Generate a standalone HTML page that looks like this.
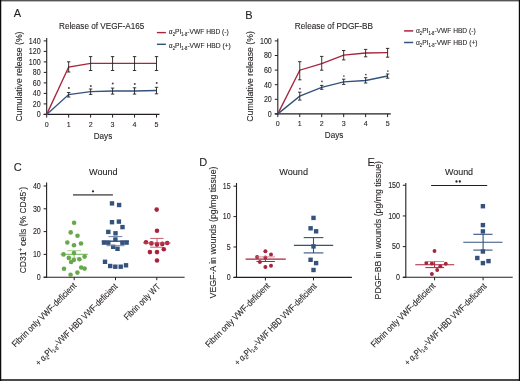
<!DOCTYPE html>
<html><head><meta charset="utf-8"><style>
html,body{margin:0;padding:0;background:#fff;}
svg{display:block;font-family:"Liberation Sans", sans-serif;will-change:transform;}
text{stroke:#231f20;stroke-width:0.1px;}
</style></head><body>
<svg width="520" height="381" viewBox="0 0 520 381">
<rect width="520" height="381" fill="#fff"/>
<rect x="0" y="0" width="520" height="1.4" fill="#555"/>
<rect x="0" y="379.0" width="520" height="2" fill="#4a4a4a"/>
<rect x="0" y="0" width="1.25" height="381" fill="#0a0a0a"/>
<rect x="518.8" y="0" width="1.2" height="381" fill="#0a0a0a"/>
<text x="13.8" y="16.9" font-size="11" text-anchor="start" fill="#231f20" >A</text>
<text x="245.3" y="19.3" font-size="11" text-anchor="start" fill="#231f20" >B</text>
<text x="13.8" y="170.8" font-size="11" text-anchor="start" fill="#231f20" >C</text>
<text x="199.3" y="165.6" font-size="11" text-anchor="start" fill="#231f20" >D</text>
<text x="367.4" y="165.7" font-size="11" text-anchor="start" fill="#231f20" >E</text>
<line x1="46.7" y1="37.9" x2="46.7" y2="114.9" stroke="#231f20" stroke-width="1.1" />
<line x1="43.7" y1="114.4" x2="46.7" y2="114.4" stroke="#231f20" stroke-width="1" />
<text x="40.7" y="117.25" font-size="8.3" text-anchor="end" fill="#231f20" textLength="3.95" lengthAdjust="spacingAndGlyphs" >0</text>
<line x1="43.7" y1="103.9" x2="46.7" y2="103.9" stroke="#231f20" stroke-width="1" />
<text x="40.7" y="106.75" font-size="8.3" text-anchor="end" fill="#231f20" textLength="7.9" lengthAdjust="spacingAndGlyphs" >20</text>
<line x1="43.7" y1="93.4" x2="46.7" y2="93.4" stroke="#231f20" stroke-width="1" />
<text x="40.7" y="96.25" font-size="8.3" text-anchor="end" fill="#231f20" textLength="7.9" lengthAdjust="spacingAndGlyphs" >40</text>
<line x1="43.7" y1="82.9" x2="46.7" y2="82.9" stroke="#231f20" stroke-width="1" />
<text x="40.7" y="85.75" font-size="8.3" text-anchor="end" fill="#231f20" textLength="7.9" lengthAdjust="spacingAndGlyphs" >60</text>
<line x1="43.7" y1="72.4" x2="46.7" y2="72.4" stroke="#231f20" stroke-width="1" />
<text x="40.7" y="75.25" font-size="8.3" text-anchor="end" fill="#231f20" textLength="7.9" lengthAdjust="spacingAndGlyphs" >80</text>
<line x1="43.7" y1="61.900000000000006" x2="46.7" y2="61.900000000000006" stroke="#231f20" stroke-width="1" />
<text x="40.7" y="64.75" font-size="8.3" text-anchor="end" fill="#231f20" textLength="11.85" lengthAdjust="spacingAndGlyphs" >100</text>
<line x1="43.7" y1="51.400000000000006" x2="46.7" y2="51.400000000000006" stroke="#231f20" stroke-width="1" />
<text x="40.7" y="54.25000000000001" font-size="8.3" text-anchor="end" fill="#231f20" textLength="11.85" lengthAdjust="spacingAndGlyphs" >120</text>
<line x1="43.7" y1="40.900000000000006" x2="46.7" y2="40.900000000000006" stroke="#231f20" stroke-width="1" />
<text x="40.7" y="43.75000000000001" font-size="8.3" text-anchor="end" fill="#231f20" textLength="11.85" lengthAdjust="spacingAndGlyphs" >140</text>
<line x1="43.7" y1="114.4" x2="159.5" y2="114.4" stroke="#231f20" stroke-width="1.1" />
<line x1="46.7" y1="114.4" x2="46.7" y2="117.60000000000001" stroke="#231f20" stroke-width="1" />
<text x="46.7" y="126.5" font-size="8.1" text-anchor="middle" fill="#231f20" textLength="3.95" lengthAdjust="spacingAndGlyphs" >0</text>
<line x1="68.66" y1="114.4" x2="68.66" y2="117.60000000000001" stroke="#231f20" stroke-width="1" />
<text x="68.66" y="126.5" font-size="8.1" text-anchor="middle" fill="#231f20" textLength="3.95" lengthAdjust="spacingAndGlyphs" >1</text>
<line x1="90.62" y1="114.4" x2="90.62" y2="117.60000000000001" stroke="#231f20" stroke-width="1" />
<text x="90.62" y="126.5" font-size="8.1" text-anchor="middle" fill="#231f20" textLength="3.95" lengthAdjust="spacingAndGlyphs" >2</text>
<line x1="112.58" y1="114.4" x2="112.58" y2="117.60000000000001" stroke="#231f20" stroke-width="1" />
<text x="112.58" y="126.5" font-size="8.1" text-anchor="middle" fill="#231f20" textLength="3.95" lengthAdjust="spacingAndGlyphs" >3</text>
<line x1="134.54000000000002" y1="114.4" x2="134.54000000000002" y2="117.60000000000001" stroke="#231f20" stroke-width="1" />
<text x="134.54000000000002" y="126.5" font-size="8.1" text-anchor="middle" fill="#231f20" textLength="3.95" lengthAdjust="spacingAndGlyphs" >4</text>
<line x1="156.5" y1="114.4" x2="156.5" y2="117.60000000000001" stroke="#231f20" stroke-width="1" />
<text x="156.5" y="126.5" font-size="8.1" text-anchor="middle" fill="#231f20" textLength="3.95" lengthAdjust="spacingAndGlyphs" >5</text>
<text x="103.0" y="138.5" font-size="9.6" text-anchor="middle" fill="#231f20" textLength="18.6" lengthAdjust="spacingAndGlyphs" >Days</text>
<path d="M46.7,114.4 L68.66,67.0 L90.62,63.4 L112.58,63.4 L134.54000000000002,63.4 L156.5,63.4" fill="none" stroke="#a8243c" stroke-width="1.35"/>
<path d="M46.7,114.4 L68.66,94.6 L90.62,91.7 L112.58,91.0 L134.54000000000002,91.0 L156.5,90.5" fill="none" stroke="#34527e" stroke-width="1.35"/>
<line x1="68.66" y1="61.8" x2="68.66" y2="72.0" stroke="#231f20" stroke-width="0.9" />
<line x1="66.96" y1="61.8" x2="70.36" y2="61.8" stroke="#231f20" stroke-width="0.9" />
<line x1="66.96" y1="72.0" x2="70.36" y2="72.0" stroke="#231f20" stroke-width="0.9" />
<line x1="90.62" y1="56.6" x2="90.62" y2="70.5" stroke="#231f20" stroke-width="0.9" />
<line x1="88.92" y1="56.6" x2="92.32000000000001" y2="56.6" stroke="#231f20" stroke-width="0.9" />
<line x1="88.92" y1="70.5" x2="92.32000000000001" y2="70.5" stroke="#231f20" stroke-width="0.9" />
<line x1="112.58" y1="56.6" x2="112.58" y2="70.5" stroke="#231f20" stroke-width="0.9" />
<line x1="110.88" y1="56.6" x2="114.28" y2="56.6" stroke="#231f20" stroke-width="0.9" />
<line x1="110.88" y1="70.5" x2="114.28" y2="70.5" stroke="#231f20" stroke-width="0.9" />
<line x1="134.54000000000002" y1="56.6" x2="134.54000000000002" y2="70.5" stroke="#231f20" stroke-width="0.9" />
<line x1="132.84000000000003" y1="56.6" x2="136.24" y2="56.6" stroke="#231f20" stroke-width="0.9" />
<line x1="132.84000000000003" y1="70.5" x2="136.24" y2="70.5" stroke="#231f20" stroke-width="0.9" />
<line x1="156.5" y1="56.6" x2="156.5" y2="70.5" stroke="#231f20" stroke-width="0.9" />
<line x1="154.8" y1="56.6" x2="158.2" y2="56.6" stroke="#231f20" stroke-width="0.9" />
<line x1="154.8" y1="70.5" x2="158.2" y2="70.5" stroke="#231f20" stroke-width="0.9" />
<line x1="68.66" y1="92.5" x2="68.66" y2="97.0" stroke="#231f20" stroke-width="0.9" />
<line x1="66.96" y1="92.5" x2="70.36" y2="92.5" stroke="#231f20" stroke-width="0.9" />
<line x1="66.96" y1="97.0" x2="70.36" y2="97.0" stroke="#231f20" stroke-width="0.9" />
<line x1="90.62" y1="89.0" x2="90.62" y2="94.4" stroke="#231f20" stroke-width="0.9" />
<line x1="88.92" y1="89.0" x2="92.32000000000001" y2="89.0" stroke="#231f20" stroke-width="0.9" />
<line x1="88.92" y1="94.4" x2="92.32000000000001" y2="94.4" stroke="#231f20" stroke-width="0.9" />
<line x1="112.58" y1="88.1" x2="112.58" y2="94.1" stroke="#231f20" stroke-width="0.9" />
<line x1="110.88" y1="88.1" x2="114.28" y2="88.1" stroke="#231f20" stroke-width="0.9" />
<line x1="110.88" y1="94.1" x2="114.28" y2="94.1" stroke="#231f20" stroke-width="0.9" />
<line x1="134.54000000000002" y1="87.8" x2="134.54000000000002" y2="94.1" stroke="#231f20" stroke-width="0.9" />
<line x1="132.84000000000003" y1="87.8" x2="136.24" y2="87.8" stroke="#231f20" stroke-width="0.9" />
<line x1="132.84000000000003" y1="94.1" x2="136.24" y2="94.1" stroke="#231f20" stroke-width="0.9" />
<line x1="156.5" y1="87.3" x2="156.5" y2="93.8" stroke="#231f20" stroke-width="0.9" />
<line x1="154.8" y1="87.3" x2="158.2" y2="87.3" stroke="#231f20" stroke-width="0.9" />
<line x1="154.8" y1="93.8" x2="158.2" y2="93.8" stroke="#231f20" stroke-width="0.9" />
<circle cx="68.86" cy="88.1" r="1.0" fill="#4a4a4a"/>
<circle cx="90.82000000000001" cy="85.9" r="1.0" fill="#4a4a4a"/>
<circle cx="112.78" cy="83.5" r="1.0" fill="#4a4a4a"/>
<circle cx="134.74" cy="83.9" r="1.0" fill="#4a4a4a"/>
<circle cx="156.7" cy="83.1" r="1.0" fill="#4a4a4a"/>
<text x="59.0" y="28.9" font-size="9.4" text-anchor="start" fill="#231f20" textLength="85.4" lengthAdjust="spacingAndGlyphs" >Release of VEGF-A165</text>
<text x="22.3" y="121.6" font-size="9.9" text-anchor="start" fill="#231f20" textLength="90.1" lengthAdjust="spacingAndGlyphs" transform="rotate(-90 22.3 121.6)" >Cumulative release (%)</text>
<line x1="277.8" y1="38.4" x2="277.8" y2="114.4" stroke="#231f20" stroke-width="1.1" />
<line x1="274.8" y1="113.9" x2="277.8" y2="113.9" stroke="#231f20" stroke-width="1" />
<text x="271.8" y="116.75" font-size="8.3" text-anchor="end" fill="#231f20" textLength="3.95" lengthAdjust="spacingAndGlyphs" >0</text>
<line x1="274.8" y1="99.30000000000001" x2="277.8" y2="99.30000000000001" stroke="#231f20" stroke-width="1" />
<text x="271.8" y="102.15" font-size="8.3" text-anchor="end" fill="#231f20" textLength="7.9" lengthAdjust="spacingAndGlyphs" >20</text>
<line x1="274.8" y1="84.7" x2="277.8" y2="84.7" stroke="#231f20" stroke-width="1" />
<text x="271.8" y="87.55" font-size="8.3" text-anchor="end" fill="#231f20" textLength="7.9" lengthAdjust="spacingAndGlyphs" >40</text>
<line x1="274.8" y1="70.10000000000001" x2="277.8" y2="70.10000000000001" stroke="#231f20" stroke-width="1" />
<text x="271.8" y="72.95" font-size="8.3" text-anchor="end" fill="#231f20" textLength="7.9" lengthAdjust="spacingAndGlyphs" >60</text>
<line x1="274.8" y1="55.50000000000001" x2="277.8" y2="55.50000000000001" stroke="#231f20" stroke-width="1" />
<text x="271.8" y="58.35000000000001" font-size="8.3" text-anchor="end" fill="#231f20" textLength="7.9" lengthAdjust="spacingAndGlyphs" >80</text>
<line x1="274.8" y1="40.900000000000006" x2="277.8" y2="40.900000000000006" stroke="#231f20" stroke-width="1" />
<text x="271.8" y="43.75000000000001" font-size="8.3" text-anchor="end" fill="#231f20" textLength="11.85" lengthAdjust="spacingAndGlyphs" >100</text>
<line x1="274.8" y1="113.9" x2="390.8" y2="113.9" stroke="#231f20" stroke-width="1.1" />
<line x1="277.8" y1="113.9" x2="277.8" y2="117.10000000000001" stroke="#231f20" stroke-width="1" />
<text x="277.8" y="126.0" font-size="8.1" text-anchor="middle" fill="#231f20" textLength="3.95" lengthAdjust="spacingAndGlyphs" >0</text>
<line x1="299.76" y1="113.9" x2="299.76" y2="117.10000000000001" stroke="#231f20" stroke-width="1" />
<text x="299.76" y="126.0" font-size="8.1" text-anchor="middle" fill="#231f20" textLength="3.95" lengthAdjust="spacingAndGlyphs" >1</text>
<line x1="321.72" y1="113.9" x2="321.72" y2="117.10000000000001" stroke="#231f20" stroke-width="1" />
<text x="321.72" y="126.0" font-size="8.1" text-anchor="middle" fill="#231f20" textLength="3.95" lengthAdjust="spacingAndGlyphs" >2</text>
<line x1="343.68" y1="113.9" x2="343.68" y2="117.10000000000001" stroke="#231f20" stroke-width="1" />
<text x="343.68" y="126.0" font-size="8.1" text-anchor="middle" fill="#231f20" textLength="3.95" lengthAdjust="spacingAndGlyphs" >3</text>
<line x1="365.64" y1="113.9" x2="365.64" y2="117.10000000000001" stroke="#231f20" stroke-width="1" />
<text x="365.64" y="126.0" font-size="8.1" text-anchor="middle" fill="#231f20" textLength="3.95" lengthAdjust="spacingAndGlyphs" >4</text>
<line x1="387.6" y1="113.9" x2="387.6" y2="117.10000000000001" stroke="#231f20" stroke-width="1" />
<text x="387.6" y="126.0" font-size="8.1" text-anchor="middle" fill="#231f20" textLength="3.95" lengthAdjust="spacingAndGlyphs" >5</text>
<text x="334.1" y="138.0" font-size="9.6" text-anchor="middle" fill="#231f20" textLength="18.6" lengthAdjust="spacingAndGlyphs" >Days</text>
<path d="M277.8,113.9 L299.76,70.2 L321.72,63.7 L343.68,55.1 L365.64,53.0 L387.6,52.6" fill="none" stroke="#a8243c" stroke-width="1.35"/>
<path d="M277.8,113.9 L299.76,96.2 L321.72,87.3 L343.68,81.9 L365.64,80.5 L387.6,76.0" fill="none" stroke="#34527e" stroke-width="1.35"/>
<line x1="299.76" y1="61.7" x2="299.76" y2="79.8" stroke="#231f20" stroke-width="0.9" />
<line x1="298.06" y1="61.7" x2="301.46" y2="61.7" stroke="#231f20" stroke-width="0.9" />
<line x1="298.06" y1="79.8" x2="301.46" y2="79.8" stroke="#231f20" stroke-width="0.9" />
<line x1="321.72" y1="56.4" x2="321.72" y2="70.2" stroke="#231f20" stroke-width="0.9" />
<line x1="320.02000000000004" y1="56.4" x2="323.42" y2="56.4" stroke="#231f20" stroke-width="0.9" />
<line x1="320.02000000000004" y1="70.2" x2="323.42" y2="70.2" stroke="#231f20" stroke-width="0.9" />
<line x1="343.68" y1="50.5" x2="343.68" y2="59.9" stroke="#231f20" stroke-width="0.9" />
<line x1="341.98" y1="50.5" x2="345.38" y2="50.5" stroke="#231f20" stroke-width="0.9" />
<line x1="341.98" y1="59.9" x2="345.38" y2="59.9" stroke="#231f20" stroke-width="0.9" />
<line x1="365.64" y1="49.4" x2="365.64" y2="56.8" stroke="#231f20" stroke-width="0.9" />
<line x1="363.94" y1="49.4" x2="367.34" y2="49.4" stroke="#231f20" stroke-width="0.9" />
<line x1="363.94" y1="56.8" x2="367.34" y2="56.8" stroke="#231f20" stroke-width="0.9" />
<line x1="387.6" y1="48.4" x2="387.6" y2="57.2" stroke="#231f20" stroke-width="0.9" />
<line x1="385.90000000000003" y1="48.4" x2="389.3" y2="48.4" stroke="#231f20" stroke-width="0.9" />
<line x1="385.90000000000003" y1="57.2" x2="389.3" y2="57.2" stroke="#231f20" stroke-width="0.9" />
<line x1="299.76" y1="92.2" x2="299.76" y2="100.1" stroke="#231f20" stroke-width="0.9" />
<line x1="298.06" y1="92.2" x2="301.46" y2="92.2" stroke="#231f20" stroke-width="0.9" />
<line x1="298.06" y1="100.1" x2="301.46" y2="100.1" stroke="#231f20" stroke-width="0.9" />
<line x1="321.72" y1="85.4" x2="321.72" y2="89.3" stroke="#231f20" stroke-width="0.9" />
<line x1="320.02000000000004" y1="85.4" x2="323.42" y2="85.4" stroke="#231f20" stroke-width="0.9" />
<line x1="320.02000000000004" y1="89.3" x2="323.42" y2="89.3" stroke="#231f20" stroke-width="0.9" />
<line x1="343.68" y1="79.2" x2="343.68" y2="84.4" stroke="#231f20" stroke-width="0.9" />
<line x1="341.98" y1="79.2" x2="345.38" y2="79.2" stroke="#231f20" stroke-width="0.9" />
<line x1="341.98" y1="84.4" x2="345.38" y2="84.4" stroke="#231f20" stroke-width="0.9" />
<line x1="365.64" y1="77.7" x2="365.64" y2="83.0" stroke="#231f20" stroke-width="0.9" />
<line x1="363.94" y1="77.7" x2="367.34" y2="77.7" stroke="#231f20" stroke-width="0.9" />
<line x1="363.94" y1="83.0" x2="367.34" y2="83.0" stroke="#231f20" stroke-width="0.9" />
<line x1="387.6" y1="74.0" x2="387.6" y2="78.2" stroke="#231f20" stroke-width="0.9" />
<line x1="385.90000000000003" y1="74.0" x2="389.3" y2="74.0" stroke="#231f20" stroke-width="0.9" />
<line x1="385.90000000000003" y1="78.2" x2="389.3" y2="78.2" stroke="#231f20" stroke-width="0.9" />
<circle cx="299.96" cy="88.7" r="0.85" fill="#4a4a4a"/>
<circle cx="321.92" cy="81.4" r="0.85" fill="#4a4a4a"/>
<circle cx="343.88" cy="76.0" r="0.85" fill="#4a4a4a"/>
<circle cx="365.84" cy="74.6" r="0.85" fill="#4a4a4a"/>
<circle cx="387.8" cy="71.0" r="0.85" fill="#4a4a4a"/>
<text x="294.8" y="29.4" font-size="9.4" text-anchor="start" fill="#231f20" textLength="78.3" lengthAdjust="spacingAndGlyphs" >Release of PDGF-BB</text>
<text x="253.5" y="121.7" font-size="9.9" text-anchor="start" fill="#231f20" textLength="90.5" lengthAdjust="spacingAndGlyphs" transform="rotate(-90 253.5 121.7)" >Cumulative release (%)</text>
<line x1="156.9" y1="32.6" x2="165.9" y2="32.6" stroke="#a8243c" stroke-width="1.4" />
<line x1="156.9" y1="44.3" x2="165.9" y2="44.3" stroke="#34527e" stroke-width="1.4" />
<text x="168.8" y="34.2" font-size="7.7" fill="#231f20" textLength="60" lengthAdjust="spacingAndGlyphs">α<tspan font-size="4.8" dy="2.0">2</tspan><tspan dy="-2.0">PI</tspan><tspan font-size="4.8" dy="2.2">1-8</tspan><tspan dy="-2.2">-VWF HBD (-)</tspan></text>
<text x="168.8" y="48.1" font-size="7.7" fill="#231f20" textLength="62" lengthAdjust="spacingAndGlyphs">α<tspan font-size="4.8" dy="2.0">2</tspan><tspan dy="-2.0">PI</tspan><tspan font-size="4.8" dy="2.2">1-8</tspan><tspan dy="-2.2">-VWF HBD (+)</tspan></text>
<line x1="404.1" y1="30.9" x2="413.2" y2="30.9" stroke="#a8243c" stroke-width="1.5" />
<line x1="404.1" y1="42.5" x2="413.2" y2="42.5" stroke="#34527e" stroke-width="1.5" />
<text x="416.0" y="33.1" font-size="7.7" fill="#231f20" textLength="59.6" lengthAdjust="spacingAndGlyphs">α<tspan font-size="4.8" dy="2.0">2</tspan><tspan dy="-2.0">PI</tspan><tspan font-size="4.8" dy="2.2">1-8</tspan><tspan dy="-2.2">-VWF HBD (-)</tspan></text>
<text x="416.0" y="44.6" font-size="7.7" fill="#231f20" textLength="61.5" lengthAdjust="spacingAndGlyphs">α<tspan font-size="4.8" dy="2.0">2</tspan><tspan dy="-2.0">PI</tspan><tspan font-size="4.8" dy="2.2">1-8</tspan><tspan dy="-2.2">-VWF HBD (+)</tspan></text>
<line x1="46.6" y1="182.4" x2="46.6" y2="277.7" stroke="#231f20" stroke-width="1.1" />
<line x1="43.6" y1="277.2" x2="46.6" y2="277.2" stroke="#231f20" stroke-width="1" />
<text x="40.800000000000004" y="280.05" font-size="8.3" text-anchor="end" fill="#231f20" textLength="3.95" lengthAdjust="spacingAndGlyphs" >0</text>
<line x1="43.6" y1="254.39999999999998" x2="46.6" y2="254.39999999999998" stroke="#231f20" stroke-width="1" />
<text x="40.800000000000004" y="257.25" font-size="8.3" text-anchor="end" fill="#231f20" textLength="7.9" lengthAdjust="spacingAndGlyphs" >10</text>
<line x1="43.6" y1="231.6" x2="46.6" y2="231.6" stroke="#231f20" stroke-width="1" />
<text x="40.800000000000004" y="234.45" font-size="8.3" text-anchor="end" fill="#231f20" textLength="7.9" lengthAdjust="spacingAndGlyphs" >20</text>
<line x1="43.6" y1="208.8" x2="46.6" y2="208.8" stroke="#231f20" stroke-width="1" />
<text x="40.800000000000004" y="211.65" font-size="8.3" text-anchor="end" fill="#231f20" textLength="7.9" lengthAdjust="spacingAndGlyphs" >30</text>
<line x1="43.6" y1="186.0" x2="46.6" y2="186.0" stroke="#231f20" stroke-width="1" />
<text x="40.800000000000004" y="188.85" font-size="8.3" text-anchor="end" fill="#231f20" textLength="7.9" lengthAdjust="spacingAndGlyphs" >40</text>
<line x1="43.6" y1="277.2" x2="184.6" y2="277.2" stroke="#231f20" stroke-width="1.1" />
<line x1="74.2" y1="277.2" x2="74.2" y2="280.2" stroke="#231f20" stroke-width="1" />
<line x1="115.5" y1="277.2" x2="115.5" y2="280.2" stroke="#231f20" stroke-width="1" />
<line x1="156.8" y1="277.2" x2="156.8" y2="280.2" stroke="#231f20" stroke-width="1" />
<text x="89.0" y="175.0" font-size="9.4" text-anchor="start" fill="#231f20" textLength="28.7" lengthAdjust="spacingAndGlyphs" >Wound</text>
<line x1="73.0" y1="194.8" x2="112.9" y2="194.8" stroke="#707070" stroke-width="1.7" />
<circle cx="93" cy="191.3" r="1.1" fill="#231f20"/>
<line x1="60.5" y1="254.3" x2="87.8" y2="254.3" stroke="#7ab860" stroke-width="1.1" />
<line x1="67.2" y1="250.7" x2="81.1" y2="250.7" stroke="#a8d494" stroke-width="1.1" />
<line x1="74.2" y1="250.7" x2="74.2" y2="258.0" stroke="#8cc070" stroke-width="1.0" />
<line x1="69.0" y1="258.0" x2="79.5" y2="258.0" stroke="#a8d494" stroke-width="0.8" />
<circle cx="74.1" cy="222.8" r="2.3" fill="#67a84a"/>
<circle cx="70.7" cy="232.4" r="2.3" fill="#67a84a"/>
<circle cx="77.5" cy="235.8" r="2.3" fill="#67a84a"/>
<circle cx="67.3" cy="242.5" r="2.3" fill="#67a84a"/>
<circle cx="74.0" cy="245.2" r="2.3" fill="#67a84a"/>
<circle cx="81.0" cy="243.5" r="2.3" fill="#67a84a"/>
<circle cx="74.0" cy="253.0" r="2.3" fill="#67a84a"/>
<circle cx="63.5" cy="254.4" r="2.3" fill="#67a84a"/>
<circle cx="84.6" cy="256.6" r="2.3" fill="#67a84a"/>
<circle cx="68.8" cy="257.9" r="2.3" fill="#67a84a"/>
<circle cx="73.8" cy="260.0" r="2.3" fill="#67a84a"/>
<circle cx="79.4" cy="259.2" r="2.3" fill="#67a84a"/>
<circle cx="71.1" cy="262.0" r="2.3" fill="#67a84a"/>
<circle cx="64.0" cy="268.7" r="2.3" fill="#67a84a"/>
<circle cx="81.2" cy="267.5" r="2.3" fill="#67a84a"/>
<circle cx="84.6" cy="268.6" r="2.3" fill="#67a84a"/>
<circle cx="77.4" cy="272.6" r="2.3" fill="#67a84a"/>
<circle cx="70.6" cy="274.7" r="2.3" fill="#67a84a"/>
<rect x="109.8" y="201.20000000000002" width="4.4" height="4.4" fill="#34527e"/>
<rect x="116.89999999999999" y="202.8" width="4.4" height="4.4" fill="#34527e"/>
<rect x="109.8" y="220.0" width="4.4" height="4.4" fill="#34527e"/>
<rect x="116.7" y="219.4" width="4.4" height="4.4" fill="#34527e"/>
<rect x="120.3" y="224.9" width="4.4" height="4.4" fill="#34527e"/>
<rect x="106.1" y="229.70000000000002" width="4.4" height="4.4" fill="#34527e"/>
<rect x="113.3" y="231.10000000000002" width="4.4" height="4.4" fill="#34527e"/>
<rect x="113.2" y="237.3" width="4.4" height="4.4" fill="#34527e"/>
<rect x="101.8" y="240.4" width="4.4" height="4.4" fill="#34527e"/>
<rect x="106.1" y="240.5" width="4.4" height="4.4" fill="#34527e"/>
<rect x="120.2" y="240.5" width="4.4" height="4.4" fill="#34527e"/>
<rect x="124.39999999999999" y="240.4" width="4.4" height="4.4" fill="#34527e"/>
<rect x="111.0" y="244.60000000000002" width="4.4" height="4.4" fill="#34527e"/>
<rect x="115.3" y="246.60000000000002" width="4.4" height="4.4" fill="#34527e"/>
<rect x="102.8" y="259.6" width="4.4" height="4.4" fill="#34527e"/>
<rect x="108.0" y="263.8" width="4.4" height="4.4" fill="#34527e"/>
<rect x="113.1" y="264.5" width="4.4" height="4.4" fill="#34527e"/>
<rect x="118.5" y="264.5" width="4.4" height="4.4" fill="#34527e"/>
<rect x="123.8" y="263.1" width="4.4" height="4.4" fill="#34527e"/>
<line x1="101.8" y1="241.2" x2="128.9" y2="241.2" stroke="#34527e" stroke-width="1.4" />
<line x1="108.5" y1="236.6" x2="122.3" y2="236.6" stroke="#6a84aa" stroke-width="1.0" />
<line x1="106.5" y1="245.7" x2="124.5" y2="245.7" stroke="#6a84aa" stroke-width="1.0" />
<line x1="150.2" y1="238.4" x2="163.5" y2="238.4" stroke="#c0606e" stroke-width="1.0" />
<line x1="150.2" y1="247.2" x2="163.5" y2="247.2" stroke="#c0606e" stroke-width="1.0" />
<line x1="157.0" y1="238.4" x2="157.0" y2="247.2" stroke="#c0606e" stroke-width="1.0" />
<circle cx="156.7" cy="209.6" r="2.3" fill="#a8243c"/>
<circle cx="157.0" cy="230.8" r="2.3" fill="#a8243c"/>
<circle cx="146.0" cy="242.3" r="2.3" fill="#a8243c"/>
<circle cx="151.4" cy="243.4" r="2.3" fill="#a8243c"/>
<circle cx="157.0" cy="244.4" r="2.3" fill="#a8243c"/>
<circle cx="162.3" cy="243.9" r="2.3" fill="#a8243c"/>
<circle cx="167.2" cy="243.0" r="2.3" fill="#a8243c"/>
<circle cx="163.8" cy="249.3" r="2.3" fill="#a8243c"/>
<circle cx="149.9" cy="252.1" r="2.3" fill="#a8243c"/>
<circle cx="157.0" cy="252.1" r="2.3" fill="#a8243c"/>
<circle cx="157.0" cy="260.5" r="2.3" fill="#a8243c"/>
<line x1="143.3" y1="243.0" x2="170.5" y2="243.0" stroke="#b84a5a" stroke-width="1.0" />
<text x="25.9" y="273.3" font-size="9.0" text-anchor="start" fill="#231f20" textLength="86.4" lengthAdjust="spacingAndGlyphs" transform="rotate(-90 25.9 273.3)" >CD31<tspan font-size="6.5" dy="-3.3">+</tspan><tspan dy="3.3"> cells (% CD45</tspan><tspan font-size="6.5" dy="-3.3">-</tspan><tspan dy="3.3">)</tspan></text>
<line x1="236.5" y1="183.0" x2="236.5" y2="277.9" stroke="#231f20" stroke-width="1.1" />
<line x1="233.5" y1="277.4" x2="236.5" y2="277.4" stroke="#231f20" stroke-width="1" />
<text x="230.7" y="280.25" font-size="8.3" text-anchor="end" fill="#231f20" textLength="3.95" lengthAdjust="spacingAndGlyphs" >0</text>
<line x1="233.5" y1="246.99999999999997" x2="236.5" y2="246.99999999999997" stroke="#231f20" stroke-width="1" />
<text x="230.7" y="249.84999999999997" font-size="8.3" text-anchor="end" fill="#231f20" textLength="3.95" lengthAdjust="spacingAndGlyphs" >5</text>
<line x1="233.5" y1="216.59999999999997" x2="236.5" y2="216.59999999999997" stroke="#231f20" stroke-width="1" />
<text x="230.7" y="219.44999999999996" font-size="8.3" text-anchor="end" fill="#231f20" textLength="7.9" lengthAdjust="spacingAndGlyphs" >10</text>
<line x1="233.5" y1="186.2" x2="236.5" y2="186.2" stroke="#231f20" stroke-width="1" />
<text x="230.7" y="189.04999999999998" font-size="8.3" text-anchor="end" fill="#231f20" textLength="7.9" lengthAdjust="spacingAndGlyphs" >15</text>
<line x1="233.5" y1="277.4" x2="351.9" y2="277.4" stroke="#231f20" stroke-width="1.1" />
<line x1="265.4" y1="277.4" x2="265.4" y2="280.4" stroke="#231f20" stroke-width="1" />
<line x1="313.5" y1="277.4" x2="313.5" y2="280.4" stroke="#231f20" stroke-width="1" />
<text x="279.2" y="174.7" font-size="9.4" text-anchor="start" fill="#231f20" textLength="28.8" lengthAdjust="spacingAndGlyphs" >Wound</text>
<circle cx="265.4" cy="251.2" r="2.0" fill="#a8243c"/>
<circle cx="271.0" cy="254.4" r="2.0" fill="#a8243c"/>
<circle cx="257.1" cy="256.9" r="2.0" fill="#a8243c"/>
<circle cx="265.4" cy="257.5" r="2.0" fill="#a8243c"/>
<circle cx="259.9" cy="261.9" r="2.0" fill="#a8243c"/>
<circle cx="265.4" cy="267.0" r="2.0" fill="#a8243c"/>
<circle cx="271.0" cy="265.8" r="2.0" fill="#a8243c"/>
<line x1="245.6" y1="259.1" x2="285.8" y2="259.1" stroke="#a8243c" stroke-width="1.1" />
<line x1="256.5" y1="256.9" x2="274.9" y2="256.9" stroke="#c98090" stroke-width="0.9" />
<line x1="256.5" y1="261.5" x2="274.9" y2="261.5" stroke="#a8243c" stroke-width="1.0" />
<line x1="265.4" y1="256.9" x2="265.4" y2="261.5" stroke="#a8243c" stroke-width="1.0" />
<rect x="311.3" y="215.70000000000002" width="4.4" height="4.4" fill="#34527e"/>
<rect x="308.40000000000003" y="226.10000000000002" width="4.4" height="4.4" fill="#34527e"/>
<rect x="313.90000000000003" y="229.10000000000002" width="4.4" height="4.4" fill="#34527e"/>
<rect x="311.3" y="244.20000000000002" width="4.4" height="4.4" fill="#34527e"/>
<rect x="308.40000000000003" y="257.6" width="4.4" height="4.4" fill="#34527e"/>
<rect x="313.90000000000003" y="260.90000000000003" width="4.4" height="4.4" fill="#34527e"/>
<rect x="311.3" y="267.8" width="4.4" height="4.4" fill="#34527e"/>
<line x1="293.9" y1="245.4" x2="333.2" y2="245.4" stroke="#34527e" stroke-width="1.1" />
<line x1="303.7" y1="237.6" x2="323.4" y2="237.6" stroke="#34527e" stroke-width="1.1" />
<line x1="303.7" y1="252.9" x2="323.4" y2="252.9" stroke="#34527e" stroke-width="1.1" />
<line x1="313.5" y1="237.6" x2="313.5" y2="252.9" stroke="#34527e" stroke-width="1.1" />
<text x="216.1" y="298.4" font-size="9.0" text-anchor="start" fill="#231f20" textLength="131.9" lengthAdjust="spacingAndGlyphs" transform="rotate(-90 216.1 298.4)" >VEGF-A in wounds (pg/mg tissue)</text>
<line x1="405.8" y1="183.0" x2="405.8" y2="277.8" stroke="#231f20" stroke-width="1.1" />
<line x1="402.8" y1="277.3" x2="405.8" y2="277.3" stroke="#231f20" stroke-width="1" />
<text x="400.0" y="280.15000000000003" font-size="8.3" text-anchor="end" fill="#231f20" textLength="3.95" lengthAdjust="spacingAndGlyphs" >0</text>
<line x1="402.8" y1="246.62" x2="405.8" y2="246.62" stroke="#231f20" stroke-width="1" />
<text x="400.0" y="249.47" font-size="8.3" text-anchor="end" fill="#231f20" textLength="7.9" lengthAdjust="spacingAndGlyphs" >50</text>
<line x1="402.8" y1="215.94" x2="405.8" y2="215.94" stroke="#231f20" stroke-width="1" />
<text x="400.0" y="218.79" font-size="8.3" text-anchor="end" fill="#231f20" textLength="11.85" lengthAdjust="spacingAndGlyphs" >100</text>
<line x1="402.8" y1="185.26" x2="405.8" y2="185.26" stroke="#231f20" stroke-width="1" />
<text x="400.0" y="188.10999999999999" font-size="8.3" text-anchor="end" fill="#231f20" textLength="11.85" lengthAdjust="spacingAndGlyphs" >150</text>
<line x1="402.8" y1="277.3" x2="512.7" y2="277.3" stroke="#231f20" stroke-width="1.1" />
<line x1="434.6" y1="277.3" x2="434.6" y2="280.3" stroke="#231f20" stroke-width="1" />
<line x1="483.1" y1="277.3" x2="483.1" y2="280.3" stroke="#231f20" stroke-width="1" />
<text x="444.9" y="175.0" font-size="9.4" text-anchor="start" fill="#231f20" textLength="28.2" lengthAdjust="spacingAndGlyphs" >Wound</text>
<line x1="431.1" y1="185.5" x2="487.2" y2="185.5" stroke="#231f20" stroke-width="1.1" />
<circle cx="456.5" cy="181.5" r="1.15" fill="#231f20"/><circle cx="459.8" cy="181.5" r="1.15" fill="#231f20"/>
<circle cx="434.5" cy="251.0" r="1.95" fill="#a8243c"/>
<circle cx="426.3" cy="263.0" r="1.95" fill="#a8243c"/>
<circle cx="431.9" cy="263.5" r="1.95" fill="#a8243c"/>
<circle cx="445.8" cy="263.8" r="1.95" fill="#a8243c"/>
<circle cx="440.3" cy="266.3" r="1.95" fill="#a8243c"/>
<circle cx="437.2" cy="270.0" r="1.95" fill="#a8243c"/>
<circle cx="431.9" cy="274.0" r="1.95" fill="#a8243c"/>
<line x1="415.3" y1="264.7" x2="454.2" y2="264.7" stroke="#a8243c" stroke-width="1.1" />
<line x1="425.4" y1="261.5" x2="444.1" y2="261.5" stroke="#c98090" stroke-width="0.9" />
<line x1="425.4" y1="267.6" x2="444.1" y2="267.6" stroke="#a8243c" stroke-width="1.0" />
<line x1="434.6" y1="261.5" x2="434.6" y2="267.6" stroke="#a8243c" stroke-width="1.0" />
<rect x="480.7" y="204.0" width="4.4" height="4.4" fill="#34527e"/>
<rect x="480.7" y="222.9" width="4.4" height="4.4" fill="#34527e"/>
<rect x="480.7" y="229.20000000000002" width="4.4" height="4.4" fill="#34527e"/>
<rect x="480.7" y="249.3" width="4.4" height="4.4" fill="#34527e"/>
<rect x="475.1" y="255.8" width="4.4" height="4.4" fill="#34527e"/>
<rect x="480.7" y="260.90000000000003" width="4.4" height="4.4" fill="#34527e"/>
<rect x="486.3" y="258.90000000000003" width="4.4" height="4.4" fill="#34527e"/>
<line x1="463.3" y1="242.3" x2="502.5" y2="242.3" stroke="#34527e" stroke-width="1.1" />
<line x1="473.3" y1="234.3" x2="492.5" y2="234.3" stroke="#34527e" stroke-width="1.1" />
<line x1="473.3" y1="250.1" x2="492.5" y2="250.1" stroke="#34527e" stroke-width="1.1" />
<line x1="483.1" y1="234.3" x2="483.1" y2="250.1" stroke="#34527e" stroke-width="1.1" />
<text x="381.1" y="299.4" font-size="9.0" text-anchor="start" fill="#231f20" textLength="138.4" lengthAdjust="spacingAndGlyphs" transform="rotate(-90 381.1 299.4)" >PDGF-BB in wounds (pg/mg tissue)</text>
<text x="77.0" y="286.3" font-size="9.1" text-anchor="end" fill="#231f20" textLength="87" lengthAdjust="spacingAndGlyphs" transform="rotate(-45 77.0 286.3)">Fibrin only VWF-deficient</text>
<text x="118.2" y="287.0" font-size="9.1" text-anchor="end" fill="#231f20" textLength="112" lengthAdjust="spacingAndGlyphs" transform="rotate(-45 118.2 287.0)">+ α<tspan font-size="5.5" dy="1.6">2</tspan><tspan dy="-1.6">PI</tspan><tspan font-size="5.5" dy="1.6">1-8</tspan><tspan dy="-1.6">-VWF HBD VWF-deficient</tspan></text>
<text x="160.8" y="287.3" font-size="9.1" text-anchor="end" fill="#231f20" textLength="47" lengthAdjust="spacingAndGlyphs" transform="rotate(-45 160.8 287.3)">Fibrin only WT</text>
<text x="270.5" y="286.4" font-size="9.1" text-anchor="end" fill="#231f20" textLength="87" lengthAdjust="spacingAndGlyphs" transform="rotate(-45 270.5 286.4)">Fibrin only VWF-deficient</text>
<text x="317.3" y="286.8" font-size="9.1" text-anchor="end" fill="#231f20" textLength="112" lengthAdjust="spacingAndGlyphs" transform="rotate(-45 317.3 286.8)">+ α<tspan font-size="5.5" dy="1.6">2</tspan><tspan dy="-1.6">PI</tspan><tspan font-size="5.5" dy="1.6">1-8</tspan><tspan dy="-1.6">-VWF HBD VWF-deficient</tspan></text>
<text x="436.0" y="286.4" font-size="9.1" text-anchor="end" fill="#231f20" textLength="87" lengthAdjust="spacingAndGlyphs" transform="rotate(-45 436.0 286.4)">Fibrin only VWF-deficient</text>
<text x="487.3" y="286.8" font-size="9.1" text-anchor="end" fill="#231f20" textLength="112" lengthAdjust="spacingAndGlyphs" transform="rotate(-45 487.3 286.8)">+ α<tspan font-size="5.5" dy="1.6">2</tspan><tspan dy="-1.6">PI</tspan><tspan font-size="5.5" dy="1.6">1-8</tspan><tspan dy="-1.6">-VWF HBD VWF-deficient</tspan></text>
</svg></body></html>
